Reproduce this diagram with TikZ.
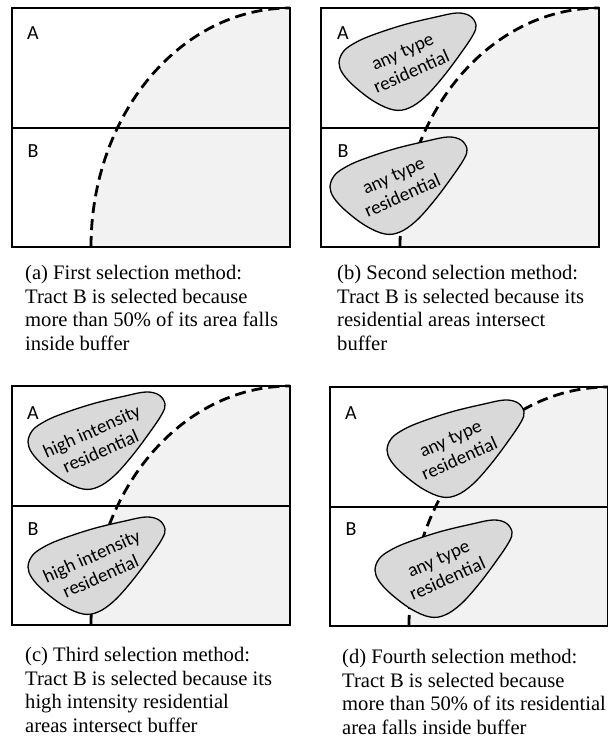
\documentclass[tikz,border=0pt]{standalone}
\usepackage{fontspec}
\setmainfont{Liberation Serif}
\newfontfamily\labelfont{Carlito}
\begin{document}
\begin{tikzpicture}[x=1pt,y=-1pt,
        tract/.style={draw=black, line width=1.6pt},
        bufferline/.style={draw=black, line width=2.8pt, dash pattern=on 11pt off 6pt},
        bufferfill/.style={fill=gray!10},
        tractlabel/.style={font=\labelfont\fontsize{20}{22}\selectfont, inner sep=0pt},
        blobtext/.style={font=\labelfont\fontsize{19}{22}\selectfont, align=center, inner sep=0pt, rotate=24},
        caption/.style={font=\fontsize{20.6}{23.6}\selectfont, align=left, anchor=north west, inner sep=0pt},
        pics/blob/.style={code={
            \filldraw[fill=gray!30, draw=black, line width=1.3pt] plot[smooth cycle, tension=0.6] coordinates {(0,0) (4,-11) (14,-19) (31,-27) (64,-38) (97,-46) (118,-50) (131,-47) (137,-38) (134,-28) (122,-10) (104,14) (86,34) (70,45) (55,47) (36,39) (16,24) (4,11)};
            \node[blobtext] (-txt) at (68,-1) {#1};
        }}
    ]
        \useasboundingbox (0,0) rectangle (607,738);
        % (a)
        \begin{scope}[shift={(12,8)}]
            \fill[bufferfill] (79,239) arc[start angle=180, end angle=90, x radius=199pt, y radius=239pt] -- (278,239) -- cycle;
            \draw[tract] (0,0) rectangle (278,239);
            \draw[tract] (0,120) -- (278,120);
            \draw[bufferline] (79,239) arc[start angle=180, end angle=90, x radius=199pt, y radius=239pt];
            \node[tractlabel] (aA) at (21,25) {A};
            \node[tractlabel] (aB) at (21,143) {B};
        \end{scope}
        % (b)
        \begin{scope}[shift={(321,8)}]
            \fill[bufferfill] (79,239) arc[start angle=180, end angle=90, x radius=199pt, y radius=239pt] -- (278,239) -- cycle;
            \draw[tract] (0,0) rectangle (278,239);
            \draw[tract] (0,120) -- (278,120);
            \draw[bufferline] (79,239) arc[start angle=180, end angle=90, x radius=199pt, y radius=239pt];
            \pic (bresA) at (18,55) {blob={any type\\residential}};
            \pic (bresB) at (9,179) {blob={any type\\residential}};
            \node[tractlabel] (bA) at (22,25) {A};
            \node[tractlabel] (bB) at (22,143) {B};
        \end{scope}
        % (c)
        \begin{scope}[shift={(12,386)}]
            \fill[bufferfill] (79,239) arc[start angle=180, end angle=90, x radius=199pt, y radius=239pt] -- (278,239) -- cycle;
            \draw[tract] (0,0) rectangle (278,239);
            \draw[tract] (0,120) -- (278,120);
            \draw[bufferline] (79,239) arc[start angle=180, end angle=90, x radius=199pt, y radius=239pt];
            \pic (cresA) at (16,56) {blob={high intensity\\residential}};
            \pic (cresB) at (16,181) {blob={high intensity\\residential}};
            \node[tractlabel] (cA) at (21,27) {A};
            \node[tractlabel] (cB) at (21,143) {B};
        \end{scope}
        % (d)
        \begin{scope}[shift={(330,387)}]
            \fill[bufferfill] (79,239) arc[start angle=180, end angle=90, x radius=199pt, y radius=239pt] -- (278,239) -- cycle;
            \draw[tract] (0,0) rectangle (278,239);
            \draw[tract] (0,120) -- (278,120);
            \draw[bufferline] (79,239) arc[start angle=180, end angle=90, x radius=199pt, y radius=239pt];
            \pic (dresA) at (57,63) {blob={any type\\residential}};
            \pic (dresB) at (45,183) {blob={any type\\residential}};
            \node[tractlabel] (dA) at (21,26) {A};
            \node[tractlabel] (dB) at (21,142) {B};
        \end{scope}
        % captions
        \node[caption] (capa) at (25,265) {(a) First selection method:\\Tract B is selected because\\more than 50\% of its area falls\\inside buffer};
        \node[caption] (capb) at (337,265) {(b) Second selection method:\\Tract B is selected because its\\residential areas intersect\\buffer};
        \node[caption] (capc) at (25,647) {(c) Third selection method:\\Tract B is selected because its\\high intensity residential\\areas intersect buffer};
        \node[caption] (capd) at (342,649) {(d) Fourth selection method:\\Tract B is selected because\\more than 50\% of its residential\\area falls inside buffer};
    \end{tikzpicture}
\end{document}
